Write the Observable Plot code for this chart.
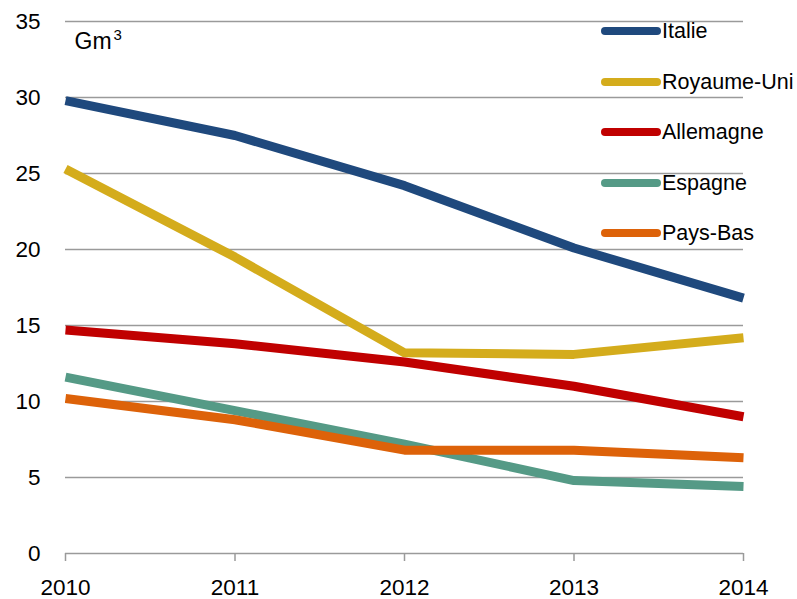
<!DOCTYPE html>
<html>
<head>
<meta charset="utf-8">
<script src="https://cdn.jsdelivr.net/npm/d3@7"></script>
<script src="https://cdn.jsdelivr.net/npm/@observablehq/plot@0.6"></script>
<style>
  html, body { margin: 0; padding: 0; background: #fff; }
  #wrap { position: relative; width: 797px; height: 599px; font-family: "Liberation Sans", Arial, sans-serif; }
  #legend { position: absolute; left: 601px; top: 19px; }
  .item { position: relative; height: 50.5px; display: flex; align-items: flex-start; }
  .sw { width: 60px; height: 8px; border-radius: 4px; margin-top: 8px; }
  .lb { font-size: 21.5px; color: #000; line-height: 24px; margin-left: 1px; }
</style>
</head>
<body>
<div id="wrap"></div>
<script>
const years = [2010, 2011, 2012, 2013, 2014];
const countries = ["Italie", "Royaume-Uni", "Allemagne", "Espagne", "Pays-Bas"];
const colors = ["#1F497D", "#D4AC1C", "#C00000", "#559A86", "#DD6209"];
const italie = [29.8, 27.5, 24.2, 20.1, 16.8];
const royaumeUni = [25.3, 19.5, 13.2, 13.1, 14.2];
const allemagne = [14.7, 13.8, 12.6, 11.0, 9.0];
const espagne = [11.6, 9.4, 7.2, 4.8, 4.4];
const paysBas = [10.2, 8.8, 6.8, 6.8, 6.3];
const yTicks = [0, 5, 10, 15, 20, 25, 30, 35];
const unitBase = "Gm";
const unitExp = "3";

const seriesValues = [italie, royaumeUni, allemagne, espagne, paysBas];
const data = [];
countries.forEach((c, i) => years.forEach((y, j) => data.push({country: c, year: y, value: seriesValues[i][j]})));

const plot = Plot.plot({
  width: 797,
  height: 599,
  marginLeft: 65,
  marginRight: 54,
  marginTop: 21,
  marginBottom: 46,
  style: {fontFamily: "'Liberation Sans', Arial, sans-serif", fontSize: "22px", color: "#000", background: "#fff"},
  x: {domain: [2010, 2014], ticks: years, tickFormat: d => String(d), label: null},
  y: {domain: [0, 35], ticks: yTicks, label: null},
  color: {domain: countries, range: colors},
  marks: [
    Plot.ruleY(yTicks, {stroke: "#9a9a9a", strokeWidth: 1.5, strokeOpacity: 1}),
    Plot.axisY({ticks: yTicks, tickSize: 0, tickPadding: 25, fontSize: 22.5, anchor: "left", label: null}),
    Plot.axisX({ticks: years, tickFormat: d => String(d), tickSize: 8, tickPadding: 18, stroke: "#9a9a9a", strokeWidth: 1.5, strokeOpacity: 1, fontSize: 22.5, anchor: "bottom", label: null}),
    Plot.line(data, {x: "year", y: "value", z: "country", stroke: "country", strokeWidth: 9, strokeLinejoin: "round", strokeLinecap: "butt"}),
    Plot.text([unitBase], {frameAnchor: "top-left", dx: 9, dy: 11, text: d => d, fontSize: 23, textAnchor: "start", lineAnchor: "top"}),
    Plot.text([unitExp], {frameAnchor: "top-left", dx: 48, dy: 8, text: d => d, fontSize: 15, textAnchor: "start", lineAnchor: "top"})
  ]
});
const wrap = document.getElementById("wrap");
wrap.appendChild(plot);

const legend = document.createElement("div");
legend.id = "legend";
countries.forEach((c, i) => {
  const it = document.createElement("div");
  it.className = "item";
  it.innerHTML = `<div class="sw" style="background:${colors[i]}"></div><div class="lb">${c}</div>`;
  legend.appendChild(it);
});
wrap.appendChild(legend);
</script>
</body>
</html>
